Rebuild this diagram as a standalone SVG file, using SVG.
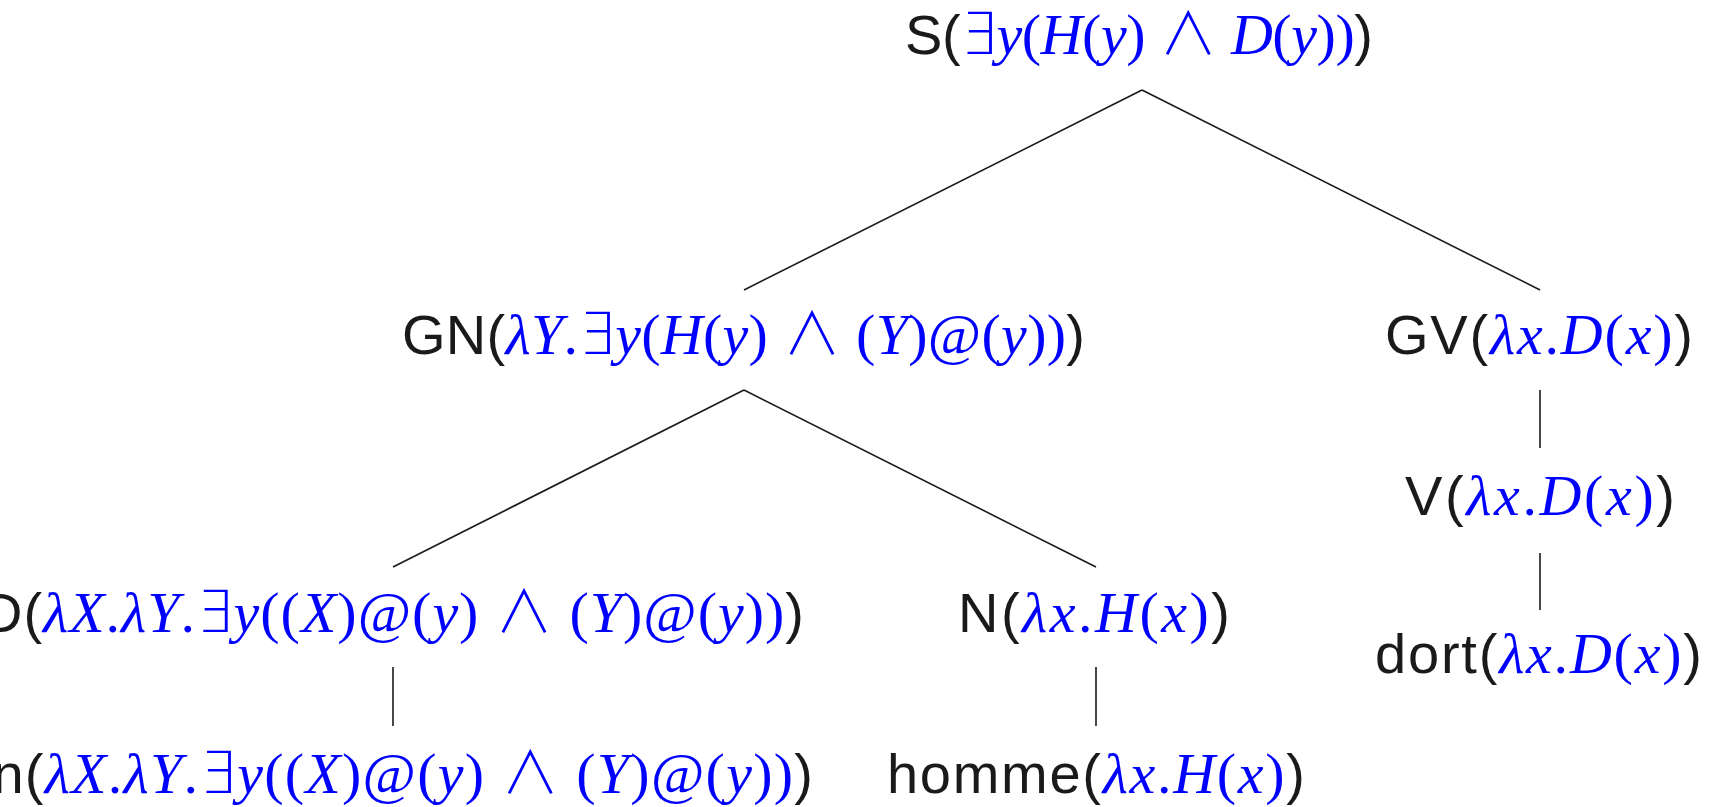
<svg xmlns="http://www.w3.org/2000/svg" width="1713" height="807" viewBox="0 0 1713 807">
<style>
text{font-size:56px;fill:#1a1a1a;}
.t{font-family:"Liberation Sans",Arial,sans-serif;fill:#1a1a1a;}
.m{font-family:"Liberation Serif","DejaVu Serif",serif;fill:#0000ff;font-style:normal;font-size:58px;}
.i{font-style:italic;}
.op{font-family:"DejaVu Sans","DejaVu Serif",sans-serif;font-weight:200;font-style:normal;}
.and{font-family:"Noto Sans CJK JP","DejaVu Sans",sans-serif;font-weight:300;font-style:normal;}
.edge{stroke:#1a1a1a;stroke-width:1.6;fill:none;}
</style>
<rect width="1713" height="807" fill="#ffffff"/>
<g id="connectors">
<line class="edge" x1="1142" y1="90" x2="744" y2="290"/>
<line class="edge" x1="1142" y1="90" x2="1540" y2="290"/>
<line class="edge" x1="744" y1="390" x2="393" y2="567"/>
<line class="edge" x1="744" y1="390" x2="1096" y2="567"/>
<line class="edge" x1="1540" y1="390" x2="1540" y2="448"/>
<line class="edge" x1="1540" y1="553" x2="1540" y2="610"/>
<line class="edge" x1="393" y1="667" x2="393" y2="726"/>
<line class="edge" x1="1096" y1="667" x2="1096" y2="726"/>
</g>
<g id="node-S">
<text x="905" y="54" textLength="468" lengthAdjust="spacing"><tspan class="t">S(</tspan><tspan class="m"><tspan class="op">∃</tspan><tspan class="i">y</tspan>(<tspan class="i">H</tspan>(<tspan class="i">y</tspan>) <tspan class="and">∧</tspan> <tspan class="i">D</tspan>(<tspan class="i">y</tspan>))</tspan><tspan class="t">)</tspan></text>
</g>
<g id="node-GN">
<text x="402" y="354" textLength="683" lengthAdjust="spacing"><tspan class="t">GN(</tspan><tspan class="m"><tspan class="i">λY</tspan>.<tspan class="op">∃</tspan><tspan class="i">y</tspan>(<tspan class="i">H</tspan>(<tspan class="i">y</tspan>) <tspan class="and">∧</tspan> (<tspan class="i">Y</tspan>)@(<tspan class="i">y</tspan>))</tspan><tspan class="t">)</tspan></text>
</g>
<g id="node-GV">
<text x="1385" y="354" textLength="308" lengthAdjust="spacing"><tspan class="t">GV(</tspan><tspan class="m"><tspan class="i">λx</tspan>.<tspan class="i">D</tspan>(<tspan class="i">x</tspan>)</tspan><tspan class="t">)</tspan></text>
</g>
<g id="node-V">
<text x="1405" y="515" textLength="270" lengthAdjust="spacing"><tspan class="t">V(</tspan><tspan class="m"><tspan class="i">λx</tspan>.<tspan class="i">D</tspan>(<tspan class="i">x</tspan>)</tspan><tspan class="t">)</tspan></text>
</g>
<g id="node-dort">
<text x="1375" y="673" textLength="327" lengthAdjust="spacing"><tspan class="t">dort(</tspan><tspan class="m"><tspan class="i">λx</tspan>.<tspan class="i">D</tspan>(<tspan class="i">x</tspan>)</tspan><tspan class="t">)</tspan></text>
</g>
<g id="node-D">
<text x="-18" y="632" textLength="822" lengthAdjust="spacing"><tspan class="t">D(</tspan><tspan class="m"><tspan class="i">λX</tspan>.<tspan class="i">λY</tspan>.<tspan class="op">∃</tspan><tspan class="i">y</tspan>((<tspan class="i">X</tspan>)@(<tspan class="i">y</tspan>) <tspan class="and">∧</tspan> (<tspan class="i">Y</tspan>)@(<tspan class="i">y</tspan>))</tspan><tspan class="t">)</tspan></text>
</g>
<g id="node-N">
<text x="958" y="632" textLength="272" lengthAdjust="spacing"><tspan class="t">N(</tspan><tspan class="m"><tspan class="i">λx</tspan>.<tspan class="i">H</tspan>(<tspan class="i">x</tspan>)</tspan><tspan class="t">)</tspan></text>
</g>
<g id="node-un">
<text x="-40" y="793" textLength="853" lengthAdjust="spacing"><tspan class="t">un(</tspan><tspan class="m"><tspan class="i">λX</tspan>.<tspan class="i">λY</tspan>.<tspan class="op">∃</tspan><tspan class="i">y</tspan>((<tspan class="i">X</tspan>)@(<tspan class="i">y</tspan>) <tspan class="and">∧</tspan> (<tspan class="i">Y</tspan>)@(<tspan class="i">y</tspan>))</tspan><tspan class="t">)</tspan></text>
</g>
<g id="node-homme">
<text x="887" y="793" textLength="418" lengthAdjust="spacing"><tspan class="t">homme(</tspan><tspan class="m"><tspan class="i">λx</tspan>.<tspan class="i">H</tspan>(<tspan class="i">x</tspan>)</tspan><tspan class="t">)</tspan></text>
</g>
</svg>
